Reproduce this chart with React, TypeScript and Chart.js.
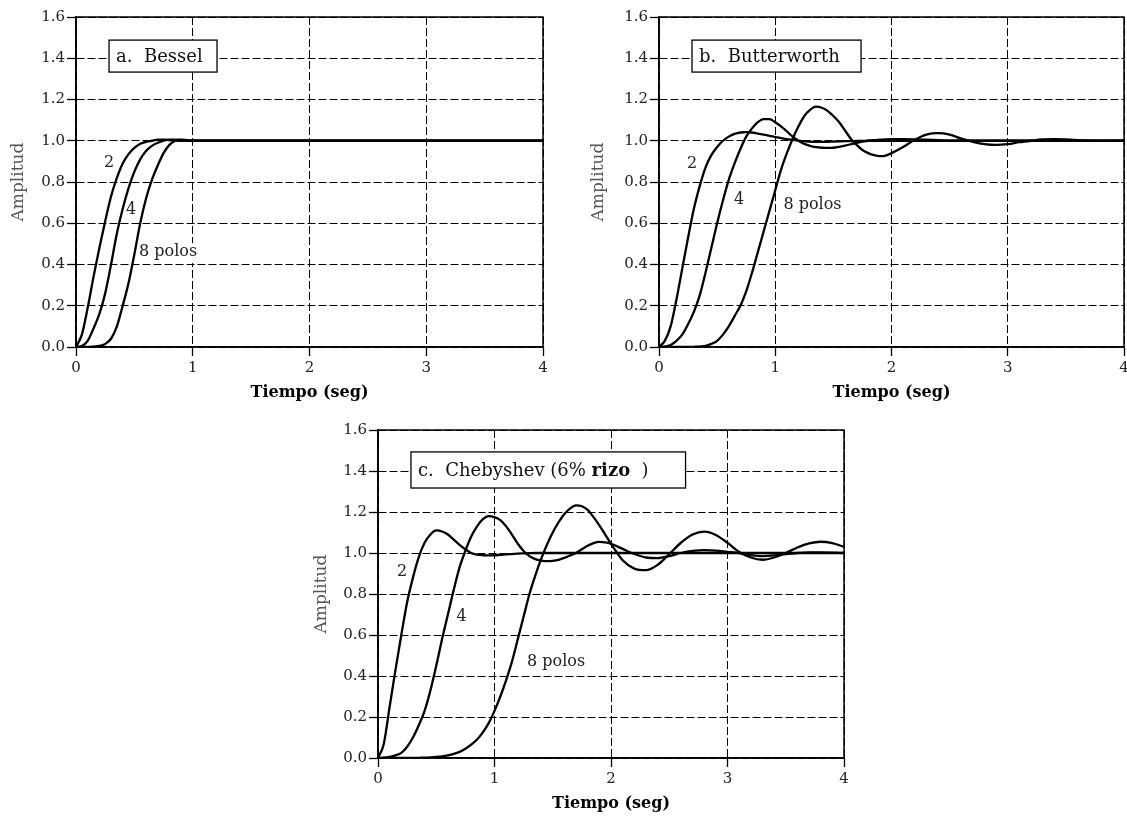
import React, { useEffect, useRef } from "react";
import { Chart, registerables } from "chart.js";

Chart.register(...registerables);

const SERIF = "'DejaVu Serif', 'Liberation Serif', serif";

// ---------- shared axis values ----------
const X_MIN = 0;
const X_MAX = 4;
const X_STEP = 1;
const Y_MIN = 0;
const Y_MAX = 1.6;
const Y_STEP = 0.2;
const X_TITLE = "Tiempo (seg)";
const Y_TITLE = "Amplitud";

// ---------- panel a: Bessel ----------
const TIME_A = [0, 0.05, 0.1, 0.15, 0.2, 0.25, 0.3, 0.35, 0.4, 0.45, 0.5, 0.55, 0.6, 0.65, 0.7, 0.75, 0.8, 0.85, 0.9, 0.95, 1, 2, 3, 4];
const BESSEL_2 = [0, 0.06, 0.19, 0.34, 0.48, 0.61, 0.73, 0.82, 0.89, 0.935, 0.965, 0.985, 0.995, 1.0, 1.005, 1.005, 1.003, 1.001, 1.0, 1.0, 1.0, 1.0, 1.0, 1.0];
const BESSEL_4 = [0, 0.005, 0.03, 0.09, 0.16, 0.26, 0.4, 0.55, 0.67, 0.77, 0.85, 0.91, 0.95, 0.975, 0.99, 1.0, 1.005, 1.005, 1.003, 1.001, 1.0, 1.0, 1.0, 1.0];
const BESSEL_8 = [0, 0, 0, 0.002, 0.005, 0.015, 0.04, 0.1, 0.2, 0.31, 0.45, 0.6, 0.72, 0.81, 0.88, 0.94, 0.98, 1.0, 1.005, 1.003, 1.0, 1.0, 1.0, 1.0];

// ---------- panels b and c share a time grid ----------
const TIME_BC = [0, 0.05, 0.1, 0.15, 0.2, 0.25, 0.3, 0.35, 0.4, 0.45, 0.5, 0.55, 0.6, 0.65, 0.7, 0.75, 0.8, 0.85, 0.9, 0.95, 1, 1.05, 1.1, 1.15, 1.2, 1.25, 1.3, 1.35, 1.4, 1.45, 1.5, 1.55, 1.6, 1.65, 1.7, 1.75, 1.8, 1.85, 1.9, 1.95, 2, 2.1, 2.2, 2.3, 2.4, 2.5, 2.6, 2.7, 2.8, 2.9, 3, 3.1, 3.2, 3.3, 3.4, 3.5, 3.6, 3.7, 3.8, 3.9, 4];

// ---------- panel b: Butterworth ----------
const BUTTER_2 = [0, 0.03, 0.1, 0.23, 0.38, 0.53, 0.67, 0.78, 0.87, 0.93, 0.97, 1.0, 1.02, 1.033, 1.04, 1.042, 1.04, 1.035, 1.03, 1.024, 1.018, 1.013, 1.008, 1.004, 1.0, 0.998, 0.996, 0.995, 0.995, 0.995, 0.996, 0.997, 0.998, 0.998, 0.999, 0.999, 1.0, 1.0, 1.0, 1.0, 1.0, 1, 1, 1, 1, 1, 1, 1, 1, 1, 1, 1, 1, 1, 1, 1, 1, 1, 1, 1, 1];
const BUTTER_4 = [0, 0.002, 0.01, 0.03, 0.06, 0.11, 0.17, 0.25, 0.36, 0.48, 0.6, 0.71, 0.81, 0.89, 0.96, 1.02, 1.06, 1.09, 1.105, 1.105, 1.09, 1.07, 1.045, 1.02, 1.0, 0.985, 0.975, 0.969, 0.966, 0.965, 0.966, 0.97, 0.976, 0.983, 0.99, 0.996, 1.0, 1.003, 1.005, 1.007, 1.008, 1.008, 1.007, 1.005, 1.003, 1.001, 1.0, 1, 1, 1, 1, 1, 1, 1, 1, 1, 1, 1, 1, 1, 1];
const BUTTER_8 = [0, 0, 0, 0, 0, 0, 0.001, 0.002, 0.005, 0.015, 0.03, 0.06, 0.1, 0.15, 0.2, 0.27, 0.36, 0.46, 0.56, 0.66, 0.76, 0.86, 0.94, 1.01, 1.07, 1.12, 1.15, 1.165, 1.16, 1.145, 1.12, 1.09, 1.05, 1.01, 0.98, 0.955, 0.94, 0.93, 0.925, 0.928, 0.94, 0.97, 1.005, 1.03, 1.037, 1.03, 1.01, 0.995, 0.984, 0.98, 0.984, 0.993, 1.0, 1.006, 1.008, 1.006, 1.003, 1.0, 0.999, 1.0, 1.0];

// ---------- panel c: Chebyshev ----------
const CHEBY_2 = [0, 0.07, 0.25, 0.43, 0.6, 0.76, 0.88, 0.98, 1.05, 1.09, 1.11, 1.105, 1.09, 1.065, 1.04, 1.018, 1.0, 0.992, 0.989, 0.988, 0.989, 0.991, 0.993, 0.995, 0.997, 0.998, 0.999, 1.0, 1, 1, 1, 1, 1, 1, 1, 1, 1, 1, 1, 1, 1, 1, 1, 1, 1, 1, 1, 1, 1, 1, 1, 1, 1, 1, 1, 1, 1, 1, 1, 1, 1];
const CHEBY_4 = [0, 0.002, 0.006, 0.013, 0.025, 0.055, 0.1, 0.16, 0.23, 0.33, 0.45, 0.58, 0.7, 0.82, 0.93, 1.01, 1.08, 1.13, 1.165, 1.18, 1.175, 1.16, 1.13, 1.09, 1.045, 1.01, 0.985, 0.97, 0.963, 0.96, 0.962, 0.967, 0.976, 0.988, 1.0, 1.018, 1.035, 1.048, 1.054, 1.052, 1.045, 1.02, 0.995, 0.978, 0.975, 0.985, 1.0, 1.01, 1.014, 1.012, 1.006, 1.0, 0.99, 0.985, 0.988, 0.995, 1.0, 1.003, 1.003, 1.002, 1.0];
const CHEBY_8 = [0, 0, 0, 0, 0, 0, 0, 0.001, 0.002, 0.003, 0.005, 0.008, 0.013, 0.02, 0.03, 0.045, 0.065, 0.09, 0.125, 0.17, 0.23, 0.3, 0.38, 0.47, 0.58, 0.69, 0.8, 0.89, 0.97, 1.04, 1.1, 1.15, 1.19, 1.218, 1.232, 1.228, 1.21, 1.175, 1.135, 1.09, 1.045, 0.965, 0.924, 0.916, 0.942, 0.995, 1.05, 1.09, 1.104, 1.088, 1.05, 1.005, 0.978, 0.967, 0.978, 1.0, 1.027, 1.047, 1.055, 1.048, 1.03];

// ---------- annotation texts ----------
const TITLE_A = [{ text: "a.  Bessel", bold: false }];
const TITLE_B = [{ text: "b.  Butterworth", bold: false }];
const TITLE_C = [
  { text: "c.  Chebyshev (6% ", bold: false },
  { text: "rizo", bold: true },
  { text: "  )", bold: false },
];
const LABEL_2 = "2";
const LABEL_4 = "4";
const LABEL_8 = "8 polos";

type TitlePart = { text: string; bold: boolean };
type Label = { text: string; x: number; y: number; align: "left" | "center"; bg: boolean };
type PanelDef = {
  left: number;
  top: number;
  width: number;
  height: number;
  pad: { left: number; top: number; right: number; bottom: number };
  yAxisWidth: number;
  xAxisHeight: number;
  yTitlePad: number;
  xTitlePad: number;
  time: number[];
  series: number[][];
  title: { parts: TitlePart[]; x0: number; y0: number; x1: number; y1: number };
  labels: Label[];
};

const PANELS: PanelDef[] = [
  {
    left: 0, top: 0, width: 560, height: 405,
    pad: { left: 0, top: 17, right: 17, bottom: 0 },
    yAxisWidth: 76, xAxisHeight: 58, yTitlePad: 8, xTitlePad: 3,
    time: TIME_A,
    series: [BESSEL_2, BESSEL_4, BESSEL_8],
    title: { parts: TITLE_A, x0: 0.283, y0: 1.488, x1: 1.208, y1: 1.333 },
    labels: [
      { text: LABEL_2, x: 0.283, y: 0.892, align: "center", bg: false },
      { text: LABEL_4, x: 0.471, y: 0.664, align: "center", bg: false },
      { text: LABEL_8, x: 0.54, y: 0.46, align: "left", bg: true },
    ],
  },
  {
    left: 560, top: 0, width: 580, height: 405,
    pad: { left: 20, top: 17, right: 16, bottom: 0 },
    yAxisWidth: 79, xAxisHeight: 58, yTitlePad: 8, xTitlePad: 3,
    time: TIME_BC,
    series: [BUTTER_2, BUTTER_4, BUTTER_8],
    title: { parts: TITLE_B, x0: 0.284, y0: 1.488, x1: 1.738, y1: 1.333 },
    labels: [
      { text: LABEL_2, x: 0.284, y: 0.89, align: "center", bg: false },
      { text: LABEL_4, x: 0.688, y: 0.713, align: "center", bg: false },
      { text: LABEL_8, x: 1.07, y: 0.688, align: "left", bg: true },
    ],
  },
  {
    left: 280, top: 410, width: 600, height: 407,
    pad: { left: 23, top: 20, right: 36, bottom: 0 },
    yAxisWidth: 75, xAxisHeight: 59, yTitlePad: 8, xTitlePad: 4,
    time: TIME_BC,
    series: [CHEBY_2, CHEBY_4, CHEBY_8],
    title: { parts: TITLE_C, x0: 0.283, y0: 1.493, x1: 2.64, y1: 1.317 },
    labels: [
      { text: LABEL_2, x: 0.206, y: 0.907, align: "center", bg: false },
      { text: LABEL_4, x: 0.717, y: 0.689, align: "center", bg: false },
      { text: LABEL_8, x: 1.279, y: 0.468, align: "left", bg: false },
    ],
  },
];

function makeDecor(def: PanelDef) {
  return {
    id: "panelDecor",
    afterDatasetsDraw(chart: any) {
      const { ctx, chartArea: a, scales } = chart;
      const xs = scales.x;
      const ys = scales.y;
      ctx.save();
      ctx.setLineDash([]);
      ctx.strokeStyle = "#000";
      ctx.lineWidth = 1.5;
      ctx.strokeRect(a.left, a.top, a.right - a.left, a.bottom - a.top);

      // curve labels
      ctx.font = `16px ${SERIF}`;
      ctx.textBaseline = "middle";
      for (const l of def.labels) {
        const px = xs.getPixelForValue(l.x);
        const py = ys.getPixelForValue(l.y);
        const w = ctx.measureText(l.text).width;
        if (l.bg) {
          const lx = l.align === "center" ? px - w / 2 : px;
          ctx.fillStyle = "#fff";
          ctx.fillRect(lx - 1, py - 9, w + 9, 20);
        }
        ctx.fillStyle = "#222";
        ctx.textAlign = l.align;
        ctx.fillText(l.text, px, py);
      }

      // title box
      const t = def.title;
      const bx0 = xs.getPixelForValue(t.x0);
      const bx1 = xs.getPixelForValue(t.x1);
      const by0 = ys.getPixelForValue(t.y0);
      const by1 = ys.getPixelForValue(t.y1);
      ctx.fillStyle = "#fff";
      ctx.fillRect(bx0, by0, bx1 - bx0, by1 - by0);
      ctx.lineWidth = 1.3;
      ctx.strokeStyle = "#000";
      ctx.strokeRect(bx0, by0, bx1 - bx0, by1 - by0);
      let cx = bx0 + 7;
      const cy = (by0 + by1) / 2 + 1;
      ctx.textAlign = "left";
      ctx.fillStyle = "#111";
      for (const p of t.parts) {
        ctx.font = `${p.bold ? "bold " : ""}18px ${SERIF}`;
        ctx.fillText(p.text, cx, cy);
        cx += ctx.measureText(p.text).width;
      }
      ctx.restore();
    },
  };
}

function Panel({ def }: { def: PanelDef }) {
  const ref = useRef<HTMLCanvasElement | null>(null);
  useEffect(() => {
    if (!ref.current) return;
    const datasets = def.series.map((vals, k) => ({
      label: ["2", "4", "8"][k],
      data: def.time.map((t, i) => ({ x: t, y: vals[i] })),
      borderColor: "#000",
      backgroundColor: "#000",
      borderWidth: 2.3,
      pointRadius: 0,
      fill: false,
      cubicInterpolationMode: "monotone" as const,
    }));
    const gridCommon = {
      color: "#000",
      lineWidth: 1,
      tickLength: 9,
      tickColor: "#000",
      tickWidth: 1.3,
    };
    const chart = new Chart(ref.current, {
      type: "line",
      data: { datasets },
      options: {
        animation: false,
        responsive: false,
        devicePixelRatio: 1,
        layout: { padding: def.pad },
        plugins: {
          legend: { display: false },
          tooltip: { enabled: false },
        },
        scales: {
          x: {
            type: "linear",
            min: X_MIN,
            max: X_MAX,
            ticks: {
              stepSize: X_STEP,
              color: "#222",
              font: { family: SERIF, size: 15 },
              padding: 3,
              maxRotation: 0,
            },
            grid: gridCommon,
            border: { display: true, color: "#000", width: 1.5, dash: [8, 3] },
            title: {
              display: true,
              text: X_TITLE,
              color: "#000",
              font: { family: SERIF, size: 16, weight: "bold" },
              padding: { top: 0, bottom: def.xTitlePad },
            },
            afterFit: (s: any) => {
              s.height = def.xAxisHeight;
            },
          },
          y: {
            type: "linear",
            min: Y_MIN,
            max: Y_MAX,
            ticks: {
              stepSize: Y_STEP,
              color: "#222",
              font: { family: SERIF, size: 15 },
              padding: 2,
              callback: (v: any) => Number(v).toFixed(1),
            },
            grid: gridCommon,
            border: { display: true, color: "#000", width: 1.5, dash: [8, 3] },
            title: {
              display: true,
              text: Y_TITLE,
              color: "#555",
              font: { family: SERIF, size: 17 },
              padding: { top: def.yTitlePad, bottom: 0 },
            },
            afterFit: (s: any) => {
              s.width = def.yAxisWidth;
            },
          },
        },
      },
      plugins: [makeDecor(def)],
    } as any);
    return () => chart.destroy();
  }, [def]);
  return (
    <div style={{ position: "absolute", left: def.left, top: def.top, width: def.width, height: def.height }}>
      <canvas ref={ref} width={def.width} height={def.height} style={{ display: "block" }} />
    </div>
  );
}

export default function App() {
  return (
    <div
      style={{
        position: "absolute",
        left: 0,
        top: 0,
        width: 1127,
        height: 817,
        overflow: "hidden",
        background: "#fff",
      }}
    >
      {PANELS.map((d, i) => (
        <Panel key={i} def={d} />
      ))}
    </div>
  );
}
